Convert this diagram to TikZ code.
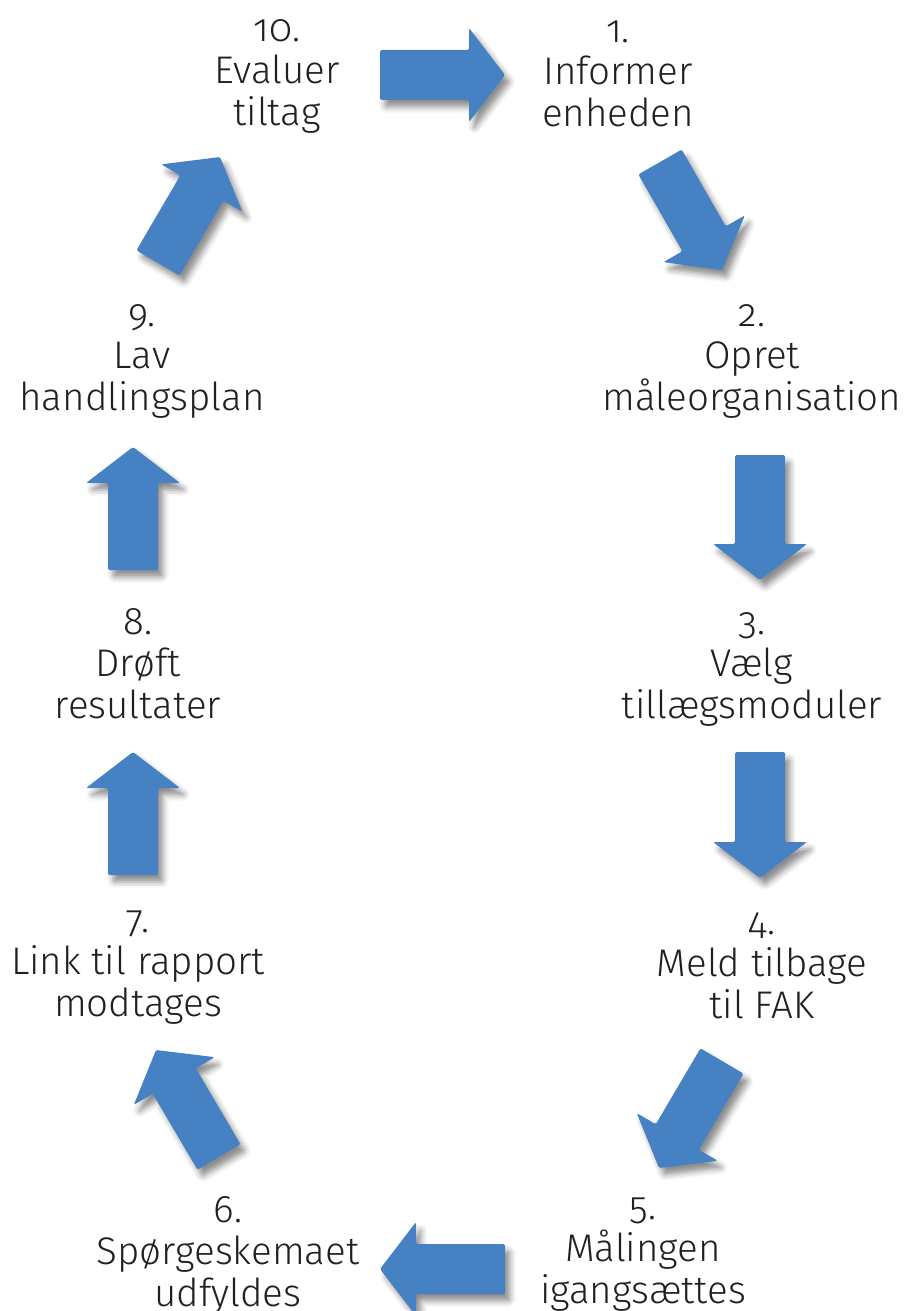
\documentclass[tikz,border=0pt]{standalone}
\usepackage{fontspec}
\setmainfont{Fira Sans Light}[Numbers=OldStyle]
\usepackage{tikz}
\usetikzlibrary{calc, shadows.blur}
\definecolor{flowblue}{HTML}{4581C3}
\definecolor{textdark}{HTML}{231F20}

% block arrow from tail coordinate #1 to tip coordinate #2
\newcommand{\flowarrow}[2]{%
  \coordinate (#1-base) at ($(#2)!36pt!(#1)$);
  \fill[flow] ($(#1)!25pt!90:(#2)$) -- ($(#1-base)!25pt!-90:(#1)$)
    -- ($(#1-base)!47pt!-90:(#1)$) -- (#2) -- ($(#1-base)!47pt!90:(#1)$)
    -- ($(#1-base)!25pt!90:(#1)$) -- ($(#1)!25pt!-90:(#2)$) -- cycle;
}

\begin{document}
\begin{tikzpicture}[x=1pt, y=-1pt,
  stepnode/.style={align=center, text=textdark, inner sep=0pt,
                   font=\fontsize{38.5}{42}\selectfont},
  flow/.style={fill=flowblue, rounded corners=1.5pt,
               blur shadow={shadow xshift=5pt, shadow yshift=-7pt,
                            shadow blur radius=6pt, shadow opacity=45}},
]
  \useasboundingbox (0,0) rectangle (905,1311);

  % Steps, right side going down
  \node[stepnode] (s1) at (618,74) {1.\\Informer\\enheden};
  \node[stepnode] (s2) at (752,361) {2.\\Opret\\måleorganisation};
  \node[stepnode] (s3) at (752,669) {3.\\Vælg\\tillægsmoduler};
  \node[stepnode] (s4) at (762,966) {4.\\Meld tilbage\\til FAK};
  \node[stepnode] (s5) at (643,1255) {5.\\Målingen\\igangsættes};

  % Steps, left side going up
  \node[stepnode] (s6) at (228,1255) {6.\\Spørgeskemaet\\udfyldes};
  \node[stepnode] (s7) at (138,968) {7.\\Link til rapport\\modtages};
  \node[stepnode] (s8) at (138,664) {8.\\Drøft\\resultater};
  \node[stepnode] (s9) at (142,361) {9.\\Lav\\handlingsplan};
  \node[stepnode] (s10) at (277,76) {10.\\Evaluer\\tiltag};

  % Arrow ends (tail, tip)
  \coordinate (t1) at (380,75);    \coordinate (p1) at (505,75);
  \coordinate (t2) at (660,162);   \coordinate (p2) at (722,270);
  \coordinate (t3) at (760,455);   \coordinate (p3) at (760,580);
  \coordinate (t4) at (760,752);   \coordinate (p4) at (760,878);
  \coordinate (t5) at (722,1061);  \coordinate (p5) at (659,1168);
  \coordinate (t6) at (505,1269);  \coordinate (p6) at (380,1269);
  \coordinate (t7) at (219,1157);  \coordinate (p7) at (156,1050);
  \coordinate (t8) at (133,875);   \coordinate (p8) at (133,752);
  \coordinate (t9) at (133,570);   \coordinate (p9) at (133,447);
  \coordinate (t10) at (158,263);  \coordinate (p10) at (220,157);

  % Arrows
  \flowarrow{t1}{p1}
  \flowarrow{t2}{p2}
  \flowarrow{t3}{p3}
  \flowarrow{t4}{p4}
  \flowarrow{t5}{p5}
  \flowarrow{t6}{p6}
  \flowarrow{t7}{p7}
  \flowarrow{t8}{p8}
  \flowarrow{t9}{p9}
  \flowarrow{t10}{p10}
\end{tikzpicture}
\end{document}
